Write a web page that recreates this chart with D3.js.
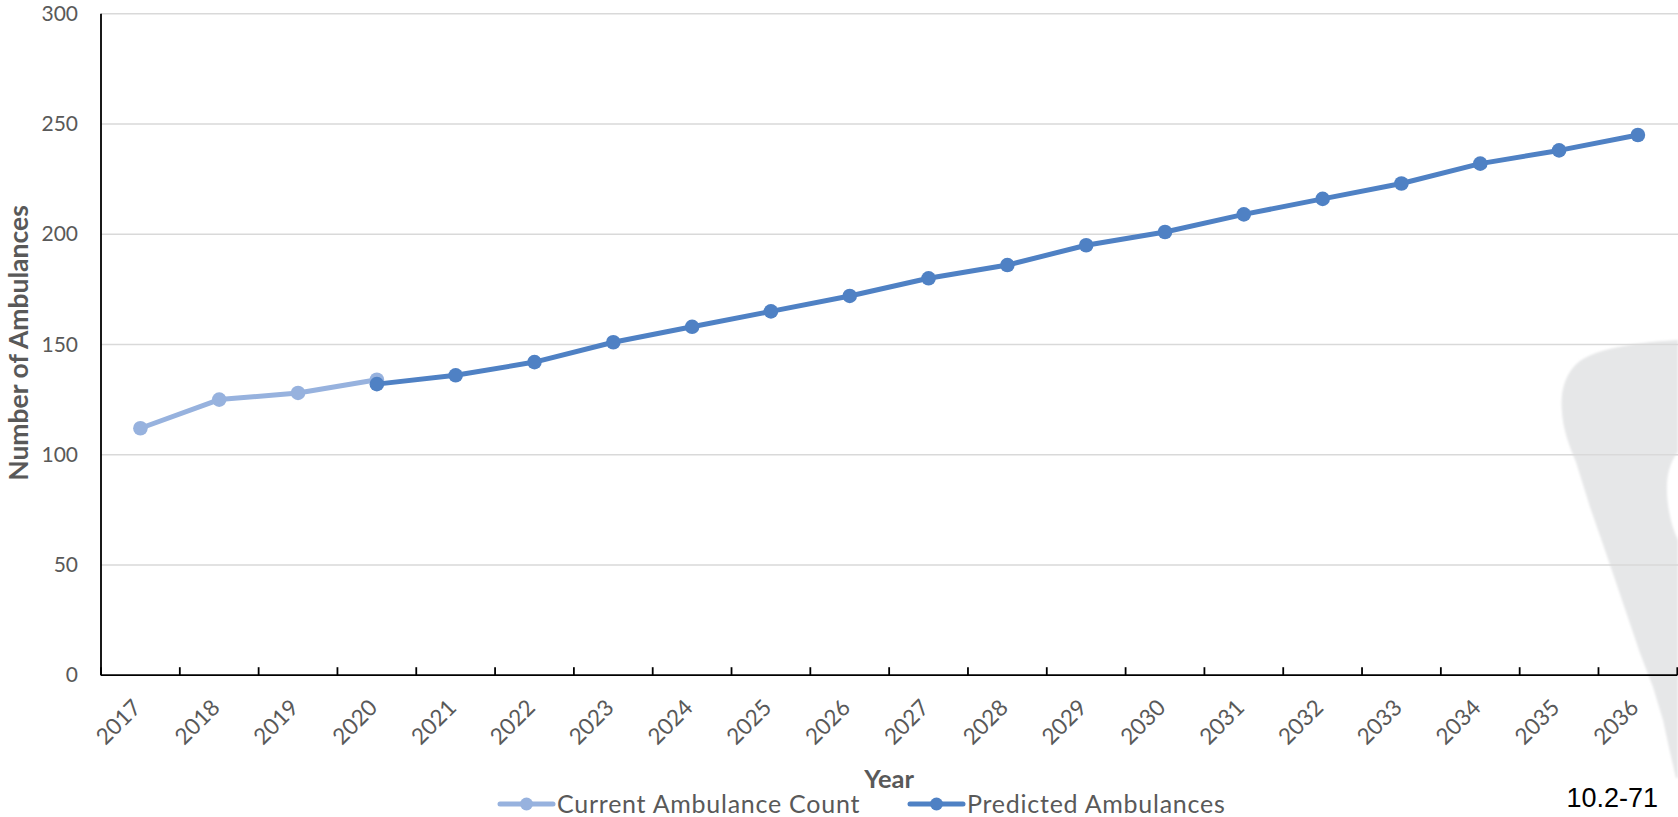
<!DOCTYPE html>
<html>
<head>
<meta charset="utf-8">
<script src="https://cdn.jsdelivr.net/npm/d3@7"></script>
<style>
  html, body { margin: 0; padding: 0; background: #ffffff; }
  svg { display: block; }
</style>
</head>
<body>
<svg id="chart" width="1678" height="817"></svg>
<script>
// ---- data ----
const years = ["2017","2018","2019","2020","2021","2022","2023","2024","2025","2026",
               "2027","2028","2029","2030","2031","2032","2033","2034","2035","2036"];
const currentYears  = ["2017","2018","2019","2020"];
const currentValues = [112, 125, 128, 134];
const predictedYears  = ["2020","2021","2022","2023","2024","2025","2026","2027","2028",
                         "2029","2030","2031","2032","2033","2034","2035","2036"];
const predictedValues = [132, 136, 142, 151, 158, 165, 172, 180, 186,
                         195, 201, 209, 216, 223, 232, 238, 245];
const yTicks = [0, 50, 100, 150, 200, 250, 300];
const seriesNames = ["Current Ambulance Count", "Predicted Ambulances"];
const xTitle = "Year";
const yTitle = "Number of Ambulances";
const figureNote = "10.2-71";

// ---- layout ----
const W = 1678, H = 817;
const plot = { left: 101, right: 1677.3, top: 13.7, bottom: 675.2 };
const colors = { current: "#97B2DE", predicted: "#4F81C4" };
const textColor = "#595959";
const tickFont = "Lato, 'Open Sans', sans-serif";

const svg = d3.select("#chart");

const x = d3.scaleBand().domain(years).range([plot.left, plot.right]).padding(0);
const y = d3.scaleLinear().domain([0, 300]).range([plot.bottom, plot.top]);
const cx = d => x(d) + x.bandwidth() / 2;

// soft grey emblem in the lower right corner
const defs = svg.append("defs");
defs.append("filter").attr("id", "soft")
  .append("feGaussianBlur").attr("stdDeviation", 1.1);
svg.append("path")
  .attr("d", "M1678,340 C1640,342 1598,348 1580,361 C1564,373 1560,394 1562,412 " +
             "C1563,428 1568,443 1576,462 L1590,507 L1606,553 L1623,603 L1640,653 " +
             "L1653,687 L1663,720 L1670,752 L1676,778 L1678,778 L1678,540 " +
             "C1670,524 1666,500 1667,483 C1668,468 1673,458 1678,452 Z")
  .attr("fill", "#E6E7E8")
  .attr("filter", "url(#soft)");

// horizontal gridlines
svg.append("g").selectAll("line")
  .data(yTicks.filter(t => t > 0))
  .join("line")
  .attr("x1", plot.left).attr("x2", W)
  .attr("y1", d => y(d)).attr("y2", d => y(d))
  .attr("stroke", "#D9D9D9").attr("stroke-width", 1.6);

// y axis labels
const yAxis = svg.append("g")
  .attr("transform", `translate(${plot.left},0)`)
  .call(d3.axisLeft(y).tickValues(yTicks).tickSize(0).tickPadding(23));
yAxis.select(".domain").remove();
yAxis.selectAll("text")
  .attr("fill", textColor)
  .style("font-family", tickFont)
  .style("font-size", "21px");

// y axis line
svg.append("line")
  .attr("x1", plot.left).attr("x2", plot.left)
  .attr("y1", y(300)).attr("y2", y(0))
  .attr("stroke", "#000").attr("stroke-width", 1.8);

// x axis line with tick marks between categories
svg.append("line")
  .attr("x1", plot.left).attr("x2", plot.right)
  .attr("y1", y(0)).attr("y2", y(0))
  .attr("stroke", "#000").attr("stroke-width", 1.8);
const tickXs = years.map(d => x(d)).concat([x(years[years.length - 1]) + x.bandwidth()]);
svg.append("g").selectAll("line")
  .data(tickXs)
  .join("line")
  .attr("x1", d => d).attr("x2", d => d)
  .attr("y1", y(0)).attr("y2", y(0) - 8)
  .attr("stroke", "#000").attr("stroke-width", 1.8);

// x axis labels, rotated
svg.append("g").selectAll("text")
  .data(years)
  .join("text")
  .attr("transform", d => `translate(${cx(d) + 2},709) rotate(-45)`)
  .attr("text-anchor", "end")
  .attr("fill", textColor)
  .style("font-family", tickFont)
  .style("font-size", "22.5px")
  .text(d => d);

// axis titles
svg.append("text")
  .attr("x", (plot.left + plot.right) / 2).attr("y", 788)
  .attr("text-anchor", "middle")
  .attr("fill", textColor)
  .style("font-family", tickFont).style("font-weight", "bold").style("font-size", "25.5px")
  .text(xTitle);
svg.append("text")
  .attr("transform", `translate(27.5,343) rotate(-90)`)
  .attr("text-anchor", "middle")
  .attr("fill", textColor)
  .style("font-family", tickFont).style("font-weight", "bold").style("font-size", "26.5px")
  .text(yTitle);

// series
const currentData = currentYears.map((d, i) => ({ year: d, value: currentValues[i] }));
const predictedData = predictedYears.map((d, i) => ({ year: d, value: predictedValues[i] }));
const line = d3.line().x(d => cx(d.year)).y(d => y(d.value));

function drawSeries(data, color) {
  const g = svg.append("g");
  g.append("path")
    .datum(data)
    .attr("d", line)
    .attr("fill", "none")
    .attr("stroke", color)
    .attr("stroke-width", 5)
    .attr("stroke-linejoin", "round")
    .attr("stroke-linecap", "round");
  g.selectAll("circle")
    .data(data)
    .join("circle")
    .attr("cx", d => cx(d.year))
    .attr("cy", d => y(d.value))
    .attr("r", 7.3)
    .attr("fill", color);
}
drawSeries(currentData, colors.current);
drawSeries(predictedData, colors.predicted);

// legend
const legendItems = [
  { name: seriesNames[0], color: colors.current, x0: 500 },
  { name: seriesNames[1], color: colors.predicted, x0: 910 }
];
const legend = svg.append("g").selectAll("g")
  .data(legendItems)
  .join("g")
  .attr("transform", d => `translate(${d.x0},804)`);
legend.append("line")
  .attr("x1", 0).attr("x2", 53)
  .attr("stroke", d => d.color).attr("stroke-width", 5)
  .attr("stroke-linecap", "round");
legend.append("circle")
  .attr("cx", 26.5).attr("r", 6.5)
  .attr("fill", d => d.color);
legend.append("text")
  .attr("x", 57).attr("y", 9)
  .attr("fill", textColor)
  .style("font-family", tickFont)
  .style("font-size", "25px")
  .style("letter-spacing", "0.75px")
  .text(d => d.name);

// figure reference number
svg.append("text")
  .attr("x", 1566.5).attr("y", 807)
  .attr("fill", "#000")
  .style("font-family", "'Liberation Sans', Arial, sans-serif")
  .style("font-size", "27px")
  .text(figureNote);
</script>
</body>
</html>
